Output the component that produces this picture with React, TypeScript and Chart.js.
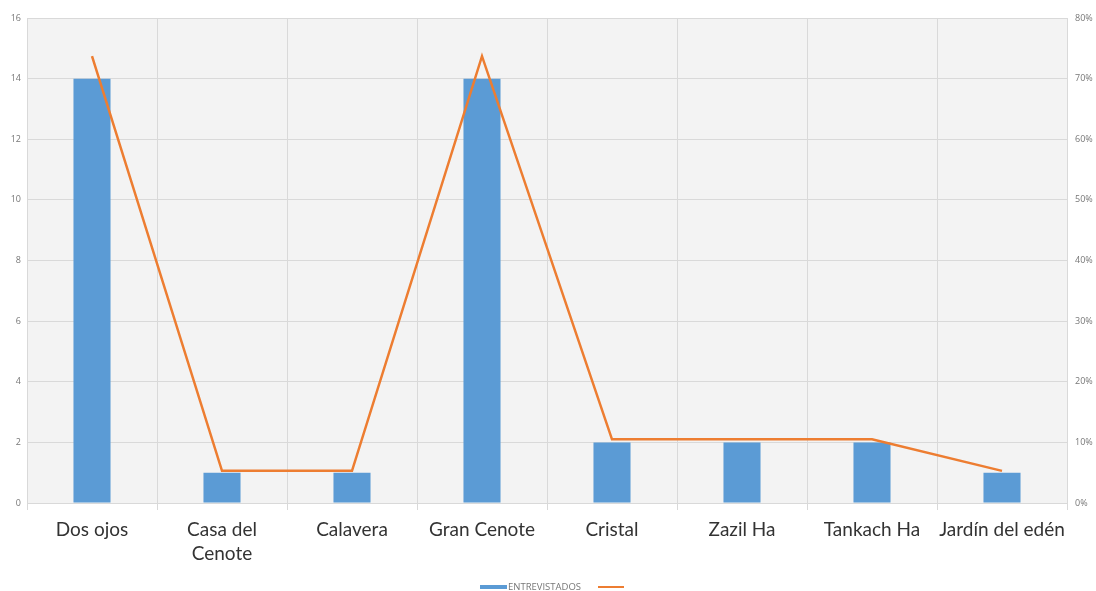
import React, { useEffect, useRef } from "react";
import { Chart, registerables } from "chart.js";

Chart.register(...registerables);

const categories: (string | string[])[] = [
  "Dos ojos",
  ["Casa del", "Cenote"],
  "Calavera",
  "Gran Cenote",
  "Cristal",
  "Zazil Ha",
  "Tankach Ha",
  "Jardín del edén",
];
const entrevistados = [14, 1, 1, 14, 2, 2, 2, 1];
const porcentaje = [73.7, 5.3, 5.3, 73.7, 10.5, 10.5, 10.5, 5.3];
const barLabel = "ENTREVISTADOS";
const barColor = "#5B9BD5";
const lineColor = "#ED7D31";

const bgPlugin = {
  id: "bgPlugin",
  beforeDraw(chart: any) {
    const { ctx, chartArea } = chart;
    ctx.save();
    ctx.fillStyle = "#f3f3f3";
    ctx.fillRect(chartArea.left, chartArea.top, chartArea.right - chartArea.left, chartArea.bottom - chartArea.top);
    ctx.restore();
  },
};

const legendPlugin = {
  id: "customLegend",
  afterDraw(chart: any) {
    const { ctx } = chart;
    ctx.save();
    ctx.fillStyle = barColor;
    ctx.fillRect(480, 585, 27, 4);
    ctx.font = "9.5px 'Open Sans', sans-serif";
    ctx.fillStyle = "#777";
    ctx.textBaseline = "middle";
    ctx.textAlign = "left";
    ctx.fillText(barLabel, 508, 587);
    ctx.strokeStyle = lineColor;
    ctx.lineWidth = 2;
    ctx.beginPath();
    ctx.moveTo(598, 587);
    ctx.lineTo(624, 587);
    ctx.stroke();
    ctx.restore();
  },
};

export default function App() {
  const ref = useRef<HTMLCanvasElement>(null);
  useEffect(() => {
    if (!ref.current) return;
    const chart = new Chart(ref.current, {
      type: "bar",
      data: {
        labels: categories,
        datasets: [
          {
            type: "line",
            label: "",
            data: porcentaje,
            yAxisID: "y1",
            borderColor: lineColor,
            backgroundColor: lineColor,
            borderWidth: 2.5,
            pointRadius: 0,
            tension: 0,
            order: 0,
          } as any,
          {
            type: "bar",
            label: barLabel,
            data: entrevistados,
            yAxisID: "y",
            backgroundColor: barColor,
            categoryPercentage: 1,
            barPercentage: 0.285,
            order: 1,
          },
        ],
      },
      options: {
        animation: false,
        responsive: false,
        maintainAspectRatio: false,
        layout: { padding: { top: 18, bottom: 0, left: 0, right: 0 } },
        plugins: { legend: { display: false }, tooltip: { enabled: false } },
        scales: {
          x: {
            offset: true,
            grid: { offset: true, color: "#d9d9d9", tickLength: 7, drawTicks: true },
            border: { color: "#d9d9d9" },
            ticks: {
              color: "#333",
              font: { family: "Lato, 'Open Sans', sans-serif", size: 19, lineHeight: 1.25 },
              padding: 8,
              maxRotation: 0,
              autoSkip: false,
            },
            afterFit(scale: any) {
              scale.height = 88;
            },
          },
          y: {
            position: "left",
            min: 0,
            max: 16,
            ticks: { stepSize: 2, color: "#777", font: { size: 9, family: "'Open Sans', sans-serif" }, padding: 6 },
            grid: { color: "#d9d9d9", drawTicks: false },
            border: { display: false },
            afterFit(scale: any) {
              scale.width = 27;
            },
          },
          y1: {
            position: "right",
            min: 0,
            max: 80,
            ticks: {
              stepSize: 10,
              color: "#777",
              font: { size: 9, family: "'Open Sans', sans-serif" },
              padding: 8,
              callback: (v: any) => v + "%",
            },
            grid: { display: false, drawTicks: false },
            border: { display: false },
            afterFit(scale: any) {
              scale.width = 29;
            },
          },
        },
      },
      plugins: [bgPlugin, legendPlugin],
    });
    return () => chart.destroy();
  }, []);
  return (
    <div style={{ position: "fixed", left: 0, top: 0, width: 1096, height: 591, background: "#fff" }}>
      <canvas ref={ref} width={1096} height={591} />
    </div>
  );
}
